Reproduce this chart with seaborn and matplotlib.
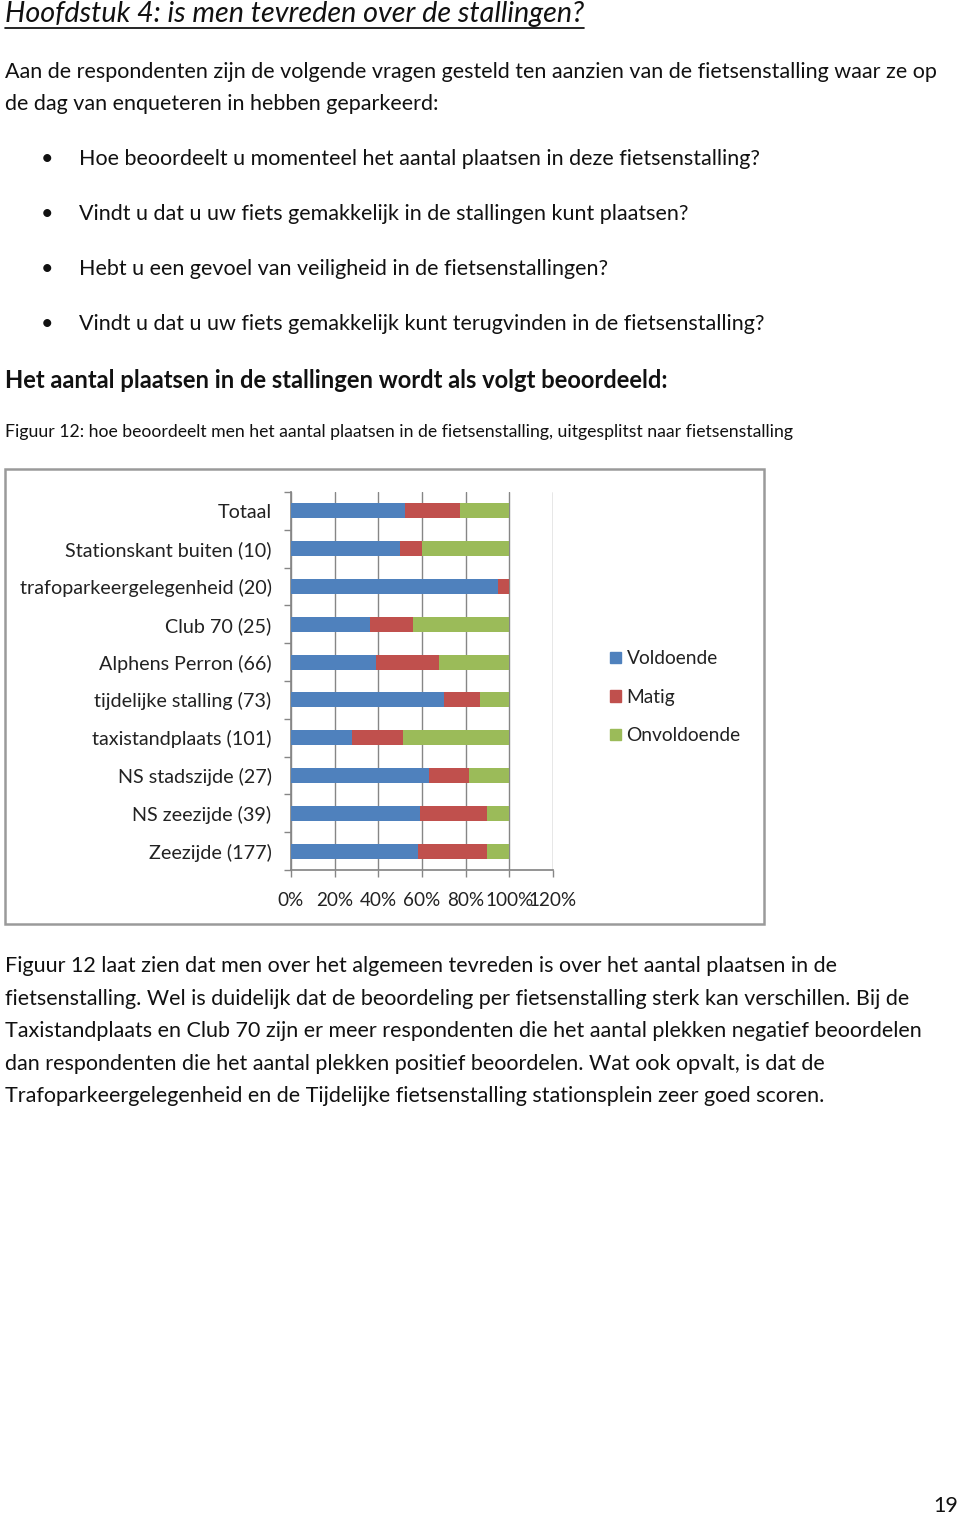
import matplotlib
matplotlib.use("Agg")
import matplotlib.pyplot as plt
import seaborn as sns
import pandas as pd
import numpy as np
from matplotlib.patches import Rectangle
from matplotlib.lines import Line2D

# ---------------- data ----------------
categories = ["Totaal", "Stationskant buiten (10)", "trafoparkeergelegenheid (20)",
              "Club 70 (25)", "Alphens Perron (66)", "tijdelijke stalling (73)",
              "taxistandplaats (101)", "NS stadszijde (27)", "NS zeezijde (39)",
              "Zeezijde (177)"]
voldoende = [52, 50, 95, 36, 39, 70, 28, 63, 59, 58]
matig = [25.5, 10, 5, 20, 29, 16.5, 23.5, 18.5, 31, 32]
onvoldoende = [22.5, 40, 0, 44, 32, 13.5, 48.5, 18.5, 10, 10]
series_names = ["Voldoende", "Matig", "Onvoldoende"]
x_ticks = [0, 20, 40, 60, 80, 100, 120]

BLUE, RED, GREEN = "#4F81BD", "#C0504D", "#9BBB59"

sns.set_theme(style="white")
plt.rcParams['font.family'] = ['Lato', 'DejaVu Sans']

W, H = 960, 1515
fig = plt.figure(figsize=(W / 100, H / 100), dpi=100)

def fx(x):
    return x / W

def fy(y):
    return 1 - y / H

body = 15.45
TXT = "#111111"
# ---------------- document text ----------------
title = fig.text(fx(5), fy(14), "Hoofdstuk 4: is men tevreden over de stallingen?",
                 fontsize=20.7, style='italic', va='center', ha='left', color=TXT)
fig.text(fx(5), fy(72), "Aan de respondenten zijn de volgende vragen gesteld ten aanzien van de fietsenstalling waar ze op",
         fontsize=body, va='center', color=TXT)
fig.text(fx(5), fy(104), "de dag van enqueteren in hebben geparkeerd:", fontsize=body, va='center', color=TXT)
bullets = ["Hoe beoordeelt u momenteel het aantal plaatsen in deze fietsenstalling?",
           "Vindt u dat u uw fiets gemakkelijk in de stallingen kunt plaatsen?",
           "Hebt u een gevoel van veiligheid in de fietsenstallingen?",
           "Vindt u dat u uw fiets gemakkelijk kunt terugvinden in de fietsenstalling?"]
for i, b in enumerate(bullets):
    y = 159 + 55 * i
    fig.text(fx(47), fy(y), "\u2022", fontsize=body, va='center', ha='center', color=TXT)
    fig.text(fx(79), fy(y), b, fontsize=body, va='center', color=TXT)
fig.text(fx(5), fy(380), "Het aantal plaatsen in de stallingen wordt als volgt beoordeeld:",
         fontsize=17.1, fontweight='bold', va='center', color=TXT)
fig.text(fx(5), fy(432), "Figuur 12: hoe beoordeelt men het aantal plaatsen in de fietsenstalling, uitgesplitst naar fietsenstalling",
         fontsize=12.7, va='center', color=TXT)
para = ["Figuur 12 laat zien dat men over het algemeen tevreden is over het aantal plaatsen in de",
        "fietsenstalling. Wel is duidelijk dat de beoordeling per fietsenstalling sterk kan verschillen. Bij de",
        "Taxistandplaats en Club 70 zijn er meer respondenten die het aantal plekken negatief beoordelen",
        "dan respondenten die het aantal plekken positief beoordelen. Wat ook opvalt, is dat de",
        "Trafoparkeergelegenheid en de Tijdelijke fietsenstalling stationsplein zeer goed scoren."]
for i, p in enumerate(para):
    fig.text(fx(5), fy(966 + 32.6 * i), p, fontsize=body, va='center', color=TXT)
fig.text(fx(958), fy(1506), "19", fontsize=body, va='center', ha='right', color=TXT)

# chart frame
fig.patches.append(Rectangle((fx(5), fy(924)), fx(759), 455 / H, transform=fig.transFigure,
                             fill=False, edgecolor="#9a9a9a", linewidth=1.8, zorder=0))

# ---------------- chart ----------------
ax = fig.add_axes([fx(291), fy(870), fx(262), (870 - 492) / H])
df = pd.DataFrame({"cat": categories,
                   "v": voldoende, "m": matig, "o": onvoldoende})
df["vm"] = df["v"] + df["m"]
df["vmo"] = df["vm"] + df["o"]

for col, c in [("vmo", GREEN), ("vm", RED), ("v", BLUE)]:
    sns.barplot(data=df, x=col, y="cat", order=categories, orient="h", color=c,
                width=0.4, saturation=1, ax=ax, zorder=3, edgecolor="none")

ax.set_xlim(0, 120)
ax.set_ylim(9.5, -0.5)
ax.set_xticks(x_ticks)
ax.set_xticklabels([f"{t}%" for t in x_ticks], fontsize=13.6, color="#222222")
ax.set_xlabel("")
ax.set_ylabel("")
ax.tick_params(axis='y', which='major', length=0, pad=14, labelsize=14.2, labelcolor="#222222")
ax.set_yticks(np.arange(-0.5, 10, 1), minor=True)
ax.tick_params(axis='y', which='minor', length=5, color="#868686", width=1, left=True)
ax.tick_params(axis='x', which='major', length=5, color="#868686", width=1, bottom=True, pad=11)
ax.grid(axis='x', color="#868686", linewidth=1, zorder=0)
ax.set_axisbelow(True)
for s in ["top", "right"]:
    ax.spines[s].set_visible(False)
ax.spines["left"].set_color("#868686")
ax.spines["bottom"].set_color("#868686")

handles = [Rectangle((0, 0), 1, 1, color=c) for c in (BLUE, RED, GREEN)]
fig.legend(handles, series_names, loc="upper left", bbox_to_anchor=(fx(593), fy(633)),
           frameon=False, fontsize=13.8, handlelength=0.55, handleheight=0.55,
           handletextpad=0.3, labelspacing=1.12, labelcolor="#222222")

# underline title
fig.canvas.draw()
bb = title.get_window_extent()
fig.lines.append(Line2D([bb.x0 / W, bb.x1 / W], [fy(28), fy(28)], transform=fig.transFigure,
                        color="black", linewidth=1.2))

fig.savefig("out.png", dpi=100)
